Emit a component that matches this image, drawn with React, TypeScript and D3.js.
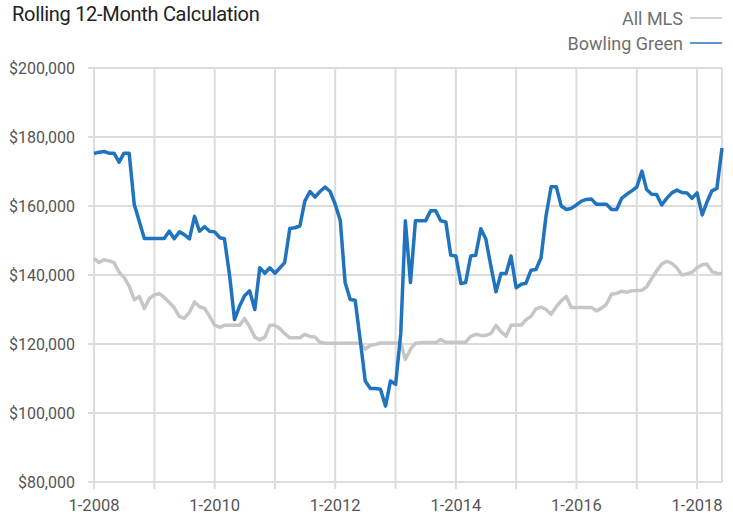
import React from "react";
import * as d3 from "d3";

// monthly rolling 12-month values, in $ thousands, Jan 2008 .. Jun 2018
const bowlingGreen = [
  175.2, 175.6, 175.8, 175.3, 175.3, 172.7, 175.3, 175.3, 160.4, 155.6, 150.6, 150.6,
  150.6, 150.6, 150.6, 152.7, 150.5, 152.5, 151.7, 150.5, 157.0, 152.7, 154.0, 152.7,
  152.5, 150.8, 150.5, 140.0, 127.1, 131.0, 134.0, 135.4, 130.0, 142.1, 140.5, 142.1,
  140.5, 142.1, 143.6, 153.5, 153.7, 154.2, 161.4, 164.2, 162.6, 164.2, 165.5, 164.2,
  160.5, 155.7, 137.8, 132.9, 132.7, 121.0, 109.3, 107.1, 107.1, 106.9, 102.0, 109.3,
  108.3, 123.0, 155.7, 137.8, 155.7, 155.7, 155.7, 158.6, 158.6, 155.7, 155.4, 145.7,
  145.5, 137.5, 137.8, 145.5, 145.7, 153.4, 150.5, 142.6, 135.1, 140.4, 140.4, 145.5,
  136.3, 137.3, 137.6, 141.4, 141.6, 145.0, 157.1, 165.6, 165.6, 160.0, 159.0, 159.3,
  160.3, 161.4, 161.9, 162.0, 160.5, 160.5, 160.5, 159.0, 159.0, 162.2, 163.4, 164.4,
  165.5, 170.1, 164.8, 163.4, 163.3, 160.3, 162.2, 163.8, 164.6, 163.9, 163.8, 162.2,
  163.8, 157.4, 161.0, 164.4, 165.1, 176.8,
];

const allMls = [
  144.8, 143.6, 144.4, 144.1, 143.6, 140.8, 139.3, 136.8, 132.8, 133.8, 130.3, 133.2,
  134.2, 134.6, 133.5, 132.0, 130.5, 128.0, 127.4, 129.2, 132.2, 130.8, 130.3, 128.0,
  125.5, 124.8, 125.4, 125.4, 125.4, 125.4, 127.4, 125.0, 122.0, 121.2, 122.0, 125.4,
  125.4, 124.4, 123.0, 121.8, 121.8, 121.8, 122.8, 122.2, 122.0, 120.5, 120.2, 120.2,
  120.2, 120.2, 120.2, 120.2, 120.2, 120.2, 118.5, 119.6, 119.9, 120.3, 120.3, 120.3,
  120.3, 120.3, 115.5, 118.5, 120.2, 120.4, 120.4, 120.4, 120.4, 121.3, 120.5, 120.5,
  120.5, 120.5, 120.5, 122.2, 122.8, 122.5, 122.5, 123.0, 125.4, 123.6, 122.3, 125.4,
  125.5, 125.5, 127.0, 128.0, 130.2, 130.7, 130.0, 128.6, 130.8, 132.5, 133.8, 130.6,
  130.6, 130.6, 130.6, 130.6, 129.6, 130.4, 131.5, 134.4, 134.7, 135.3, 135.0, 135.4,
  135.5, 135.6, 136.5, 139.0, 141.2, 143.2, 144.0, 143.4, 142.0, 140.0, 140.3, 140.8,
  142.1, 143.0, 143.2, 141.0, 140.5, 140.4,
];

const yTicks = [80, 100, 120, 140, 160, 180, 200];
const labelYears = [2008, 2010, 2012, 2014, 2016, 2018];
const gridYears = [2008, 2009, 2010, 2011, 2012, 2013, 2014, 2015, 2016, 2017, 2018];

const seriesNames = ["All MLS", "Bowling Green"];
const seriesColors = ["#c6c6c6", "#1f74bd"];

const W = 733;
const H = 516;
const font = "Roboto, 'Liberation Sans', Arial, sans-serif";

export default function App() {
  const months = d3.timeMonth.range(new Date(2008, 0, 1), new Date(2018, 6, 1));

  const x = d3.scaleTime()
    .domain([months[0], months[months.length - 1]])
    .range([94, 722]);
  const y = d3.scaleLinear().domain([80, 200]).range([482, 68]);

  const line = d3.line<number>()
    .x((_, i) => x(months[i]))
    .y(d => y(d));

  const fmt = (v: number) => "$" + d3.format(",")(v * 1000);

  return (
    <svg width={W} height={H} style={{ position: "fixed", left: 0, top: 0, background: "#fff" }}
      fontFamily={font}>
      <text x={12} y={21} fontSize={20} fill="#222" letterSpacing={-0.3}>Rolling 12-Month Calculation</text>

      {/* legend */}
      {seriesNames.map((name, i) => (
        <g key={name}>
          <text x={683} y={25 + i * 25} fontSize={18} fill="#707070" textAnchor="end">{name}</text>
          <line x1={690} x2={722} y1={18 + i * 25} y2={18 + i * 25}
            stroke={seriesColors[i]} strokeWidth={1.5} />
        </g>
      ))}

      {/* horizontal grid */}
      {yTicks.map(t => (
        <g key={t}>
          <line x1={88} x2={722} y1={y(t)} y2={y(t)} stroke="#dcdcdc" strokeWidth={2} />
          <text x={75} y={y(t) + 5.5} fontSize={16} fill="#555" textAnchor="end">{fmt(t)}</text>
        </g>
      ))}

      {/* vertical grid */}
      {gridYears.map(yr => (
        <line key={yr} x1={x(new Date(yr, 0, 1))} x2={x(new Date(yr, 0, 1))}
          y1={68} y2={489} stroke="#dcdcdc" strokeWidth={2} />
      ))}
      <line x1={722} x2={722} y1={68} y2={482} stroke="#dcdcdc" strokeWidth={2} />

      {labelYears.map(yr => (
        <text key={yr} x={x(new Date(yr, 0, 1))} y={511} fontSize={16.5} fill="#555"
          textAnchor="middle">{`1-${yr}`}</text>
      ))}

      <path d={line(allMls) || ""} fill="none" stroke={seriesColors[0]} strokeWidth={3.5}
        strokeLinejoin="round" />
      <path d={line(bowlingGreen) || ""} fill="none" stroke={seriesColors[1]} strokeWidth={3.5}
        strokeLinejoin="round" />
    </svg>
  );
}
